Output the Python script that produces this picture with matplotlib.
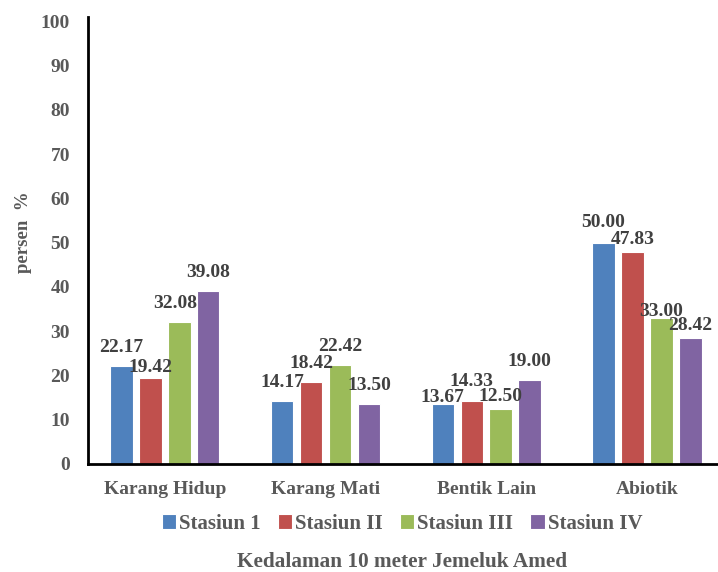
import matplotlib
matplotlib.use("Agg")
import matplotlib.pyplot as plt
import numpy as np

categories = ["Karang Hidup", "Karang Mati", "Bentik Lain", "Abiotik"]
series_names = ["Stasiun 1", "Stasiun II", "Stasiun III", "Stasiun IV"]
stasiun_1 = [22.17, 14.17, 13.67, 50.00]
stasiun_2 = [19.42, 18.42, 14.33, 47.83]
stasiun_3 = [32.08, 22.42, 12.50, 33.00]
stasiun_4 = [39.08, 13.50, 19.00, 28.42]
yticks = [0, 10, 20, 30, 40, 50, 60, 70, 80, 90, 100]

# style: gap (points) between bar top and the centre of each data label
label_gap = [
    [13.5, 13.5, 4.5, 14.5],
    [7.5, 13.5, 13.5, 9.5],
    [13.5, 13.5, 8.5, 5.0],
    [13.5, 13.5, 13.0, 9.5],
]
label_dx = [
    [0, 0, 0, 0],
    [0, 0, 0, 0],
    [-3, 0, 0, 0],
    [0, 0, 0, 0],
]

colors = ["#4F81BD", "#C0504D", "#9BBB59", "#8064A2"]
plt.rcParams['font.family'] = ['Liberation Serif', 'DejaVu Serif']
plt.rcParams['font.weight'] = 'bold'
grey = "#595959"
dark = "#404040"

fig = plt.figure(figsize=(7.18, 5.72), dpi=100)
ax = fig.add_axes([88/718, 1-464/572, 1-88/718, (464-17)/572])

x = np.arange(len(categories))
width = 0.14
step = 0.18
all_series = [stasiun_1, stasiun_2, stasiun_3, stasiun_4]
for i, (vals, name, c) in enumerate(zip(all_series, series_names, colors)):
    pos = x + (i - 1.5) * step
    bars = ax.bar(pos, vals, width, color=c, edgecolor="white", linewidth=0.8, label=name)
    for j, (b, v) in enumerate(zip(bars, vals)):
        ax.annotate(f"{v:.2f}", (b.get_x() + b.get_width()/2, v),
                    xytext=(label_dx[i][j], label_gap[i][j]), textcoords="offset points",
                    ha="center", va="center", fontsize=14, fontweight="bold", color=dark)

ax.set_xlim(-0.478, 3.442)
ax.set_ylim(0, 101)
ax.set_yticks(yticks)
ax.set_xticks(x)
ax.set_xticklabels(categories)
ax.tick_params(axis="both", length=0, colors=grey, labelsize=14)
ax.tick_params(axis="y", pad=13)
ax.tick_params(axis="x", pad=12)
for lbl in ax.get_xticklabels() + ax.get_yticklabels():
    lbl.set_fontweight("bold")
ax.spines["top"].set_visible(False)
ax.spines["right"].set_visible(False)
ax.spines["left"].set_linewidth(2)
ax.spines["bottom"].set_linewidth(2)
ax.set_ylabel("persen  %", fontsize=13.5, fontweight="bold", color=grey, va="center")
ax.yaxis.set_label_coords((23-88)/630, (464-232)/447)

leg = fig.legend(loc="center", bbox_to_anchor=(402/718, 1-524/572), ncol=4, frameon=False,
                 fontsize=15, handlelength=0.7, handleheight=0.7, handletextpad=0.15,
                 columnspacing=0.8)
for t in leg.get_texts():
    t.set_color(grey)
    t.set_fontweight("bold")

fig.text(402/718, 1-562/572, "Kedalaman 10 meter Jemeluk Amed", ha="center", va="center",
         fontsize=15.3, fontweight="bold", color=grey)

fig.savefig("out.png", dpi=100)
